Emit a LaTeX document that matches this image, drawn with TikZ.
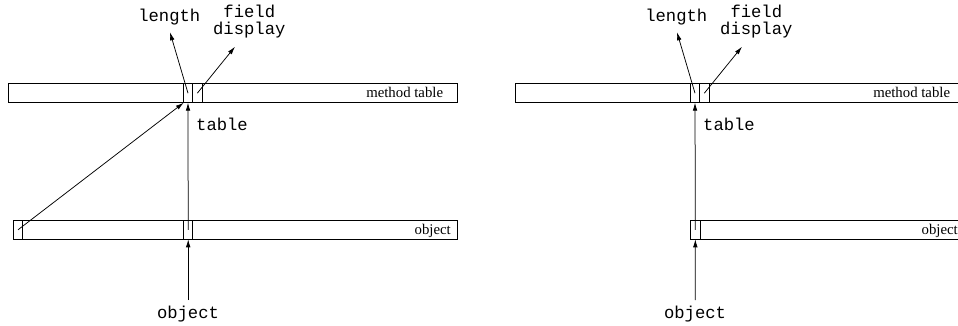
\documentclass[tikz,border=0pt]{standalone}
\usepackage{fontspec}
\setmainfont{Liberation Serif}
\setmonofont{Liberation Mono}
\usetikzlibrary{arrows.meta}
\begin{document}
\begin{tikzpicture}[x=1pt,y=-1pt,
  bar/.style={draw,line width=0.8pt,inner sep=0pt,outer sep=0pt,minimum height=19pt,anchor=north west},
  cell/.style={bar},
  arr/.style={line width=0.75pt,-{Latex[length=8pt,width=4.6pt]}},
  code/.style={font=\fontsize{17.2}{17}\selectfont\ttfamily,inner sep=0pt},
  tag/.style={font=\fontsize{14.8}{16}\selectfont,inner sep=0pt,anchor=base east}]
\useasboundingbox (0,0) rectangle (958,326);
\clip (0,0) rectangle (958,326);

% ---- left layout: object with header word pointing to the method table ----
\node[bar,minimum width=449pt] (mtL) at (8.3,83.7) {};
\node[cell,minimum width=8.6pt] (lenL) at (183.7,83.7) {};
\node[cell,minimum width=10pt] (fdL) at (192.3,83.7) {};
\node[tag] (mtnameL) at (443.3,98) {method table};

\node[bar,minimum width=444pt] (obL) at (13.3,220.3) {};
\node[cell,minimum width=9.4pt,line width=1.1pt] (hdL) at (13.3,220.3) {};
\node[cell,minimum width=9pt] (tbL) at (183.7,220.3) {};
\node[tag] (obnameL) at (451,234.7) {object};

\node[code,anchor=base] (lenlabL) at (169.3,21.7) {length};
\node[code,align=center,anchor=base] (fdlabL) at (249.3,35) {field\\display};
\node[code,anchor=base west] (tablabL) at (196,130.7) {table};
\node[code,anchor=base] (objlabL) at (188,318.3) {object};

\coordinate (lentipL) at (170,32.3);
\coordinate (fdtipL) at (235,46.7);
\coordinate (srcL) at (188.2,300);

\draw[arr] (srcL) -- (tbL.south);
\draw[arr] (tbL.center) -- (lenL.south);
\draw[arr] (hdL.center) -- (lenL.south west);
\draw[arr] (lenL.center) -- (lentipL);
\draw[arr] (fdL.center) -- (fdtipL);

% ---- right layout: table pointer stored in the object itself ----
\node[bar,minimum width=449pt] (mtR) at (515.3,83.7) {};
\node[cell,minimum width=8.6pt] (lenR) at (690.7,83.7) {};
\node[cell,minimum width=10pt] (fdR) at (699.3,83.7) {};
\node[tag] (mtnameR) at (950.3,98) {method table};

\node[bar,minimum width=273.6pt] (obR) at (690.7,220.3) {};
\node[cell,minimum width=9.3pt] (tbR) at (690.7,220.3) {};
\node[tag] (obnameR) at (958,234.7) {object};

\node[code,anchor=base] (lenlabR) at (676.3,21.7) {length};
\node[code,align=center,anchor=base] (fdlabR) at (756.3,35) {field\\display};
\node[code,anchor=base west] (tablabR) at (703,130.7) {table};
\node[code,anchor=base] (objlabR) at (695,318.3) {object};

\coordinate (lentipR) at (677,32.3);
\coordinate (fdtipR) at (742,46.7);
\coordinate (srcR) at (695.2,300);

\draw[arr] (srcR) -- (tbR.south);
\draw[arr] (tbR.center) -- (lenR.south);
\draw[arr] (lenR.center) -- (lentipR);
\draw[arr] (fdR.center) -- (fdtipR);
\end{tikzpicture}
\end{document}
